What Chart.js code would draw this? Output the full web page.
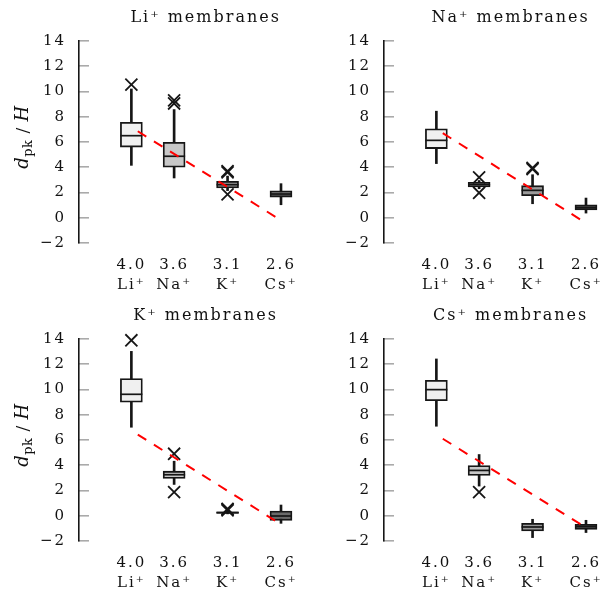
<!DOCTYPE html>
<html><head><meta charset="utf-8">
<script src="https://cdn.jsdelivr.net/npm/chart.js@4"></script>
<style>
html,body{margin:0;padding:0;background:#fff;overflow:hidden;width:615px;height:592px;position:relative;}
canvas{position:absolute;}
</style></head><body>
<canvas id="c1" width="345" height="296" style="left:0px;top:0px"></canvas>
<canvas id="c2" width="345" height="296" style="left:305px;top:0px"></canvas>
<canvas id="c3" width="345" height="296" style="left:0px;top:298px"></canvas>
<canvas id="c4" width="345" height="296" style="left:305px;top:298px"></canvas>
<script>
// ---------- data ----------
const ions = ['Li⁺', 'Na⁺', 'K⁺', 'Cs⁺'];
const radii = [4.0, 3.6, 3.1, 2.6];
const panelTitles = ['Li⁺ membranes', 'Na⁺ membranes', 'K⁺ membranes', 'Cs⁺ membranes'];
const yLabelParts = ['d', 'pk', ' / ', 'H'];
const trendX = [3.94, 2.6];

// Li+ membranes
const liLower  = [4.15, 3.15, 2.15, 1.03];
const liQ1     = [5.6, 4.0, 2.36, 1.64];
const liMedian = [6.5, 4.87, 2.62, 1.88];
const liQ3     = [7.56, 5.98, 2.88, 2.14];
const liUpper  = [10.2, 8.57, 3.3, 2.7];
const liOutX   = [4.0, 3.6, 3.6, 3.1, 3.1, 3.1];
const liOutY   = [10.55, 9.05, 9.3, 3.6, 3.7, 1.85];
const liTrend  = [6.85, -0.2];

// Na+ membranes
const naLower  = [4.29, 2.3, 1.11, 0.37];
const naQ1     = [5.48, 2.44, 1.75, 0.63];
const naMedian = [6.13, 2.62, 2.17, 0.82];
const naQ3     = [7.04, 2.8, 2.54, 1.03];
const naUpper  = [8.44, 2.95, 3.41, 1.56];
const naOutX   = [3.6, 3.6, 3.1, 3.1];
const naOutY   = [3.2, 1.98, 3.85, 3.95];
const naTrend  = [6.7, -0.42];

// K+ membranes
const kLower  = [7.01, 2.48, 0.15, -0.6];
const kQ1     = [8.99, 2.96, 0.19, -0.36];
const kMedian = [9.62, 3.25, 0.25, -0.02];
const kQ3     = [10.86, 3.53, 0.31, 0.37];
const kUpper  = [13.02, 4.32, 0.38, 0.85];
const kOutX   = [4.0, 3.6, 3.6, 3.1, 3.1, 3.1];
const kOutY   = [13.9, 4.91, 1.87, 0.42, 0.5, 0.55];
const kTrend  = [6.43, -0.68];

// Cs+ membranes
const csLower  = [7.09, 2.35, -1.73, -1.33];
const csQ1     = [9.12, 3.19, -1.21, -1.08];
const csMedian = [9.99, 3.59, -0.89, -0.87];
const csQ3     = [10.73, 3.98, -0.6, -0.68];
const csUpper  = [12.42, 4.85, -0.28, -0.36];
const csOutX   = [3.6];
const csOutY   = [1.87];
const csTrend  = [6.1, -0.94];

// ---------- styles ----------
const FONT = '"DejaVu Serif", "Liberation Serif", serif';
const boxFills = ['#f0f0f0', '#c8c8c8', '#9a9a9a', '#6a6a6a'];
const INK = '#161616';

const spacingPlugin = {
  id: 'spacing',
  beforeDraw(chart) { try { chart.ctx.letterSpacing = '2px'; } catch (e) {} },
  afterDraw(chart) { try { chart.ctx.letterSpacing = '0px'; } catch (e) {} }
};

const yLabelPlugin = {
  id: 'yLabel',
  afterDraw(chart, args, opts) {
    if (!opts.show) return;
    const ctx = chart.ctx;
    const ca = chart.chartArea;
    const fonts = ['italic 18px ' + FONT, '13px ' + FONT, '17px ' + FONT, 'italic 18px ' + FONT];
    const dys = [0, 4, 0, 0];
    ctx.save();
    try { ctx.letterSpacing = '0.5px'; } catch (e) {}
    const widths = yLabelParts.map((t, i) => { ctx.font = fonts[i]; return ctx.measureText(t).width; });
    const total = widths.reduce((a, b) => a + b, 0);
    ctx.translate(ca.left - 51, (ca.top + ca.bottom) / 2 - 5);
    ctx.rotate(-Math.PI / 2);
    ctx.fillStyle = '#111';
    ctx.textBaseline = 'alphabetic';
    ctx.textAlign = 'left';
    let x = -total / 2;
    yLabelParts.forEach((t, i) => {
      ctx.font = fonts[i];
      ctx.fillText(t, x, dys[i]);
      x += widths[i];
    });
    ctx.restore();
  }
};

function makeChart(id, title, showY, lower, q1, med, q3, upper, outX, outY, trend) {
  const whiskers = radii.map((r, i) => ({x: r, y: [lower[i], upper[i]]}));
  const boxes = radii.map((r, i) => ({x: r, y: [q1[i], q3[i]]}));
  const medians = radii.map((r, i) => ({x: r, y: med[i]}));
  const outliers = outX.map((x, i) => ({x: x, y: outY[i]}));
  const trendLine = trendX.map((x, i) => ({x: x, y: trend[i]}));
  return new Chart(document.getElementById(id), {
    type: 'bar',
    data: {
      datasets: [
        {type: 'line', data: trendLine, borderColor: '#ff0000', borderWidth: 2,
         borderDash: [10, 9], pointRadius: 0, fill: false, tension: 0, clip: false},
        {type: 'scatter', data: outliers, pointStyle: 'crossRot', pointRadius: 8.5,
         pointBorderColor: INK, pointBorderWidth: 1.8, pointBackgroundColor: INK, clip: false},
        {type: 'scatter', data: medians, pointStyle: 'line', pointRadius: 11,
         pointBorderColor: INK, pointBorderWidth: 1.7, clip: false},
        {type: 'bar', data: boxes, grouped: false, barThickness: 22, clip: false,
         backgroundColor: boxFills, borderColor: INK, borderWidth: 1.8, borderSkipped: false},
        {type: 'bar', data: whiskers, grouped: false, barThickness: 2, clip: false,
         backgroundColor: INK, borderWidth: 0}
      ]
    },
    options: {
      responsive: false,
      animation: false,
      events: [],
      layout: {padding: {left: 0, right: 4, top: 0, bottom: 0}},
      plugins: {
        legend: {display: false},
        tooltip: {enabled: false},
        title: {display: true, text: title, fullSize: false, color: '#111',
                font: {family: FONT, size: 16, weight: 'normal', lineHeight: 1.2},
                padding: {top: 8, bottom: 13.8}},
        yLabel: {show: showY}
      },
      scales: {
        x: {
          type: 'linear', reverse: true, min: 2.12, max: 4.49, offset: false,
          border: {display: false},
          grid: {display: false, drawTicks: false},
          afterBuildTicks: (s) => { s.ticks = radii.map(v => ({value: v})); },
          afterFit: (s) => { s.height = 53; },
          ticks: {
            autoSkip: false, maxRotation: 0, padding: 12,
            color: '#111', font: {family: FONT, size: 15, lineHeight: 1.35},
            callback: (v) => { const i = radii.indexOf(v); return [v.toFixed(1), i >= 0 ? ions[i] : '']; }
          }
        },
        y: {
          min: -2, max: 14,
          border: {display: true, color: INK, width: 1.6},
          grid: {drawOnChartArea: false, drawTicks: true, tickLength: -10, color: '#aaaaaa', lineWidth: 1.6},
          afterFit: (s) => { s.width = 79; },
          ticks: {
            stepSize: 2, padding: 23, color: '#111',
            font: {family: FONT, size: 15},
            callback: (v) => v < 0 ? '\u2212' + Math.abs(v) : String(v)
          }
        }
      }
    },
    plugins: [spacingPlugin, yLabelPlugin]
  });
}

makeChart('c1', panelTitles[0], true, liLower, liQ1, liMedian, liQ3, liUpper, liOutX, liOutY, liTrend);
makeChart('c2', panelTitles[1], false, naLower, naQ1, naMedian, naQ3, naUpper, naOutX, naOutY, naTrend);
makeChart('c3', panelTitles[2], true, kLower, kQ1, kMedian, kQ3, kUpper, kOutX, kOutY, kTrend);
makeChart('c4', panelTitles[3], false, csLower, csQ1, csMedian, csQ3, csUpper, csOutX, csOutY, csTrend);
</script>
</body></html>
